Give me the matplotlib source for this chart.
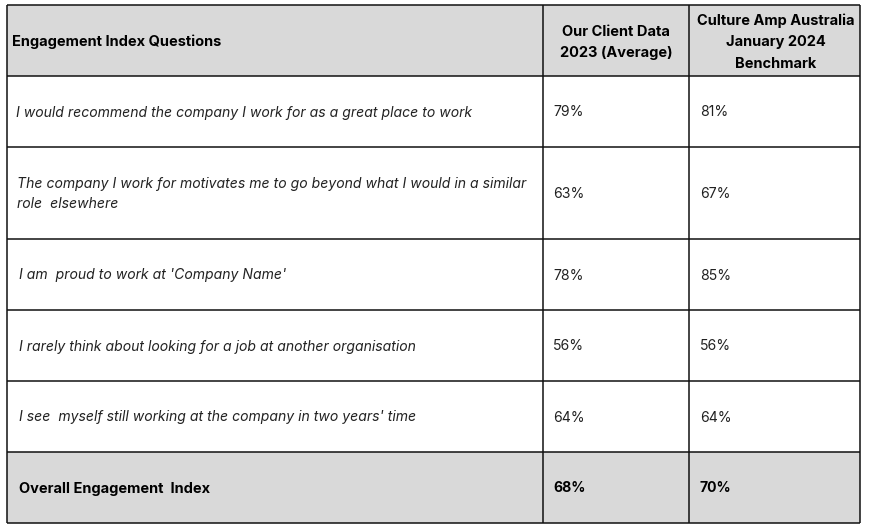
import matplotlib
matplotlib.use("Agg")
import matplotlib.pyplot as plt
from matplotlib.patches import Rectangle

header = ["Engagement Index Questions", "Our Client Data\n2023 (Average)",
          "Culture Amp Australia\nJanuary 2024\nBenchmark"]
questions = [
    "I would recommend the company I work for as a great place to work",
    "The company I work for motivates me to go beyond what I would in a similar\nrole  elsewhere",
    "I am  proud to work at 'Company Name'",
    "I rarely think about looking for a job at another organisation",
    "I see  myself still working at the company in two years' time",
]
client = ["79%", "63%", "78%", "56%", "64%"]
benchmark = ["81%", "67%", "85%", "56%", "64%"]
total_label = "Overall Engagement  Index"
total_client = "68%"
total_bench = "70%"

W, H = 874, 532
fig = plt.figure(figsize=(W / 100, H / 100), dpi=100)
ax = fig.add_axes([0, 0, 1, 1])
ax.set_xlim(0, W)
ax.set_ylim(H, 0)
ax.axis("off")

font = "Inter"
x0, x1, x2, x3 = 7, 543, 689, 860
row_edges = [5, 76, 147, 239, 310, 381, 452, 523]
text_x = [16, 17, 19, 19, 19]
gray = "#d9d9d9"

ax.add_patch(Rectangle((x0, row_edges[0]), x3 - x0, row_edges[1] - row_edges[0], color=gray, lw=0))
ax.add_patch(Rectangle((x0, row_edges[6]), x3 - x0, row_edges[7] - row_edges[6], color=gray, lw=0))

for y in row_edges:
    ax.plot([x0, x3], [y, y], color="#111111", lw=1.1, solid_capstyle="butt")
for x in [x0, x1, x2, x3]:
    ax.plot([x, x], [row_edges[0], row_edges[-1]], color="#111111", lw=1.1, solid_capstyle="butt")

fs_h = 10.5
fs = 10.1
ymid = (row_edges[0] + row_edges[1]) / 2
ax.text(12, ymid + 1, header[0], ha="left", va="center", fontsize=fs_h, fontweight="bold", family=font)
ax.text((x1 + x2) / 2, ymid + 2, header[1], ha="center", va="center", fontsize=fs_h, fontweight="bold",
        family=font, linespacing=1.7)
ax.text((x2 + x3) / 2 + 1, ymid + 1.5, header[2], ha="center", va="center", fontsize=fs_h, fontweight="bold",
        family=font, linespacing=1.7)

for i, q in enumerate(questions):
    top, bot = row_edges[i + 1], row_edges[i + 2]
    ym = (top + bot) / 2 + 1
    ax.text(text_x[i], ym, q, ha="left", va="center", fontsize=fs, style="italic", family=font,
            linespacing=1.6, color="#222222")
    ax.text(553, ym, client[i], ha="left", va="center", fontsize=fs, family=font, color="#222222")
    ax.text(700, ym, benchmark[i], ha="left", va="center", fontsize=fs, family=font, color="#222222")

ym = (row_edges[6] + row_edges[7]) / 2 + 1
ax.text(19, ym, total_label, ha="left", va="center", fontsize=fs_h, fontweight="bold", family=font)
ax.text(553, ym, total_client, ha="left", va="center", fontsize=fs, fontweight="bold", family=font)
ax.text(700, ym, total_bench, ha="left", va="center", fontsize=fs, fontweight="bold", family=font)

fig.savefig("out.png", dpi=100, facecolor="white")
